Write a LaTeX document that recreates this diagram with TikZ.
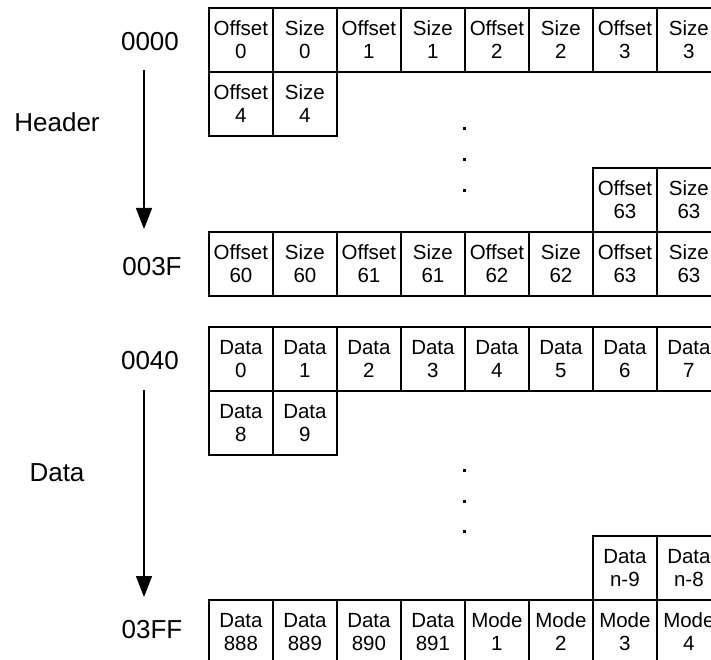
\documentclass[tikz,border=0pt]{standalone}
\usepackage{fontspec}
\setmainfont{Liberation Sans}
\usetikzlibrary{arrows.meta}

\begin{document}
\begin{tikzpicture}[x=1pt,y=-1pt,
  cell/.style={rectangle,draw=black,line width=1.8pt,minimum width=64pt,minimum height=64pt,inner sep=0pt,anchor=north west,align=center,font=\fontsize{20.5}{23}\selectfont},
  addr/.style={font=\fontsize{26}{30}\selectfont},
  down/.style={line width=1.5pt,-{Triangle[length=21pt,width=16pt]}}]
\useasboundingbox (0,0) rectangle (711,660);

\node[addr] (adr0000) at (150,42) {0000};
\node[addr] (hdr) at (57,122) {Header};
\node[addr] (adr003F) at (152,267) {003F};
\node[addr] (adr0040) at (150,361) {0040};
\node[addr] (dat) at (57,473) {Data};
\node[addr] (adr03FF) at (152,630) {03FF};

\foreach \i in {0,...,3} {
  \node[cell] (a-o\i) at ({208+128*\i},7) {Offset\\\i};
  \node[cell] (a-s\i) at ({272+128*\i},7) {Size\\\i};
}
\node[cell] (b-o4) at (208,71) {Offset\\4};
\node[cell] (b-s4) at (272,71) {Size\\4};
\node[cell] (c-o63) at (592,167) {Offset\\63};
\node[cell] (c-s63) at (656,167) {Size\\63};
\foreach \n [count=\i from 0] in {60,...,63} {
  \node[cell] (d-o\n) at ({208+128*\i},231) {Offset\\\n};
  \node[cell] (d-s\n) at ({272+128*\i},231) {Size\\\n};
}

\foreach \i in {0,...,7}
  \node[cell] (e-d\i) at ({208+64*\i},326) {Data\\\i};
\node[cell] (f-d8) at (208,390) {Data\\8};
\node[cell] (f-d9) at (272,390) {Data\\9};
\node[cell] (g-d9) at (592,535) {Data\\n-9};
\node[cell] (g-d8) at (656,535) {Data\\n-8};
\foreach \n [count=\i from 0] in {888,...,891}
  \node[cell] (h-d\n) at ({208+64*\i},599) {Data\\\n};
\foreach \n [count=\i from 4] in {1,...,4}
  \node[cell] (h-m\n) at ({208+64*\i},599) {Mode\\\n};

\coordinate (hTop) at (144,70);
\coordinate (hEnd) at (144,229);
\coordinate (dTop) at (144,390);
\coordinate (dEnd) at (144,597);
\draw[down] (hTop) -- (hEnd);
\draw[down] (dTop) -- (dEnd);

\foreach \y in {129,160,191,470,501,531}
  \fill (462.5,\y-1.5) rectangle ++(3,3);
\end{tikzpicture}
\end{document}
